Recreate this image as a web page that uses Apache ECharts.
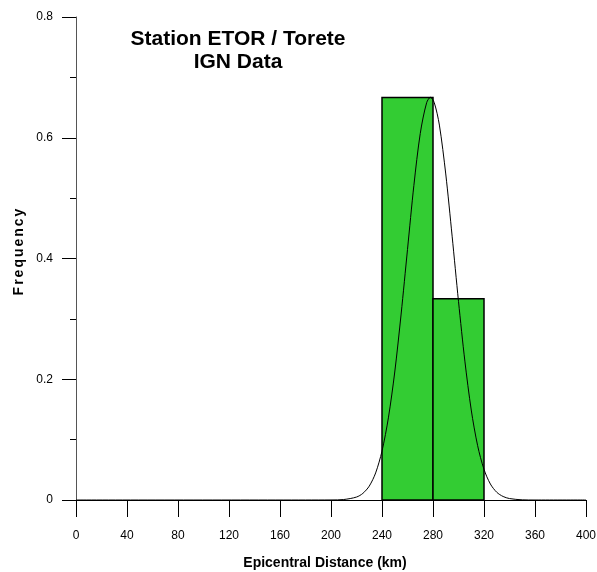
<!DOCTYPE html>
<html><head><meta charset="utf-8">
<script src="https://cdn.jsdelivr.net/npm/echarts@6/dist/echarts.min.js"></script>
<style>html,body{margin:0;padding:0;background:#fff}#c{width:597px;height:572px}</style>
</head><body><div id="c"></div>
<script>
// Histogram bins (km) and frequencies
const binStarts = [240, 280];
const binEnds = [280, 320];
const frequencies = [0.6667, 0.3333];
// Fitted normal curve
const curveX = [0, 180, 200, 210, 220, 225, 230, 235, 240, 245, 250, 255, 260, 265, 270, 275, 278, 281, 285, 290, 295, 300, 305, 310, 315, 320, 325, 330, 335, 340, 350, 360, 400];
const curveY = [0, 0, 0.0001, 0.0008, 0.0049, 0.011, 0.023, 0.0448, 0.081, 0.136, 0.212, 0.308, 0.415, 0.521, 0.607, 0.658, 0.667, 0.658, 0.621, 0.540, 0.437, 0.329, 0.230, 0.149, 0.090, 0.0507, 0.0265, 0.0128, 0.0058, 0.0024, 0.0003, 0, 0];
const xTicks = [0, 40, 80, 120, 160, 200, 240, 280, 320, 360, 400];
const yTicks = [0, 0.2, 0.4, 0.6, 0.8];
const titleLines = ['Station ETOR / Torete', 'IGN Data'];
const xName = 'Epicentral Distance (km)';
const yName = 'Frequency';

// widen letter spacing of the y-axis name only, like the reference
(function () {
  const P = CanvasRenderingContext2D.prototype;
  const orig = P.fillText;
  P.fillText = function (t) {
    if (t === yName && 'letterSpacing' in this) {
      this.save();
      this.letterSpacing = '2px';
      const r = orig.apply(this, arguments);
      this.restore();
      return r;
    }
    return orig.apply(this, arguments);
  };
})();

const chart = echarts.init(document.getElementById('c'), null, {renderer: 'canvas'});
const font = 'Liberation Sans, Arial, sans-serif';
chart.setOption({
  animation: false,
  title: {
    text: titleLines.join('\n'),
    left: 233, top: 23, textAlign: 'center',
    textStyle: {fontFamily: font, fontSize: 21, fontWeight: 'bold', color: '#000', lineHeight: 23}
  },
  graphic: [
    {type: 'text', x: 325, y: 563,
      style: {text: xName, font: 'bold 14px ' + font, fill: '#000', align: 'center', verticalAlign: 'middle'}},
    {type: 'text', x: 19, y: 251, rotation: Math.PI / 2,
      style: {text: yName, font: 'bold 14px ' + font, fill: '#000', align: 'center', verticalAlign: 'middle'}}
  ],
  grid: {left: 76, right: 11, top: 17, bottom: 72, containLabel: false, outerBoundsMode: 'none'},
  xAxis: {
    type: 'value', min: xTicks[0], max: xTicks[xTicks.length - 1], interval: 40,
    axisLine: {show: true, onZero: false, lineStyle: {color: '#000', width: 1}},
    axisTick: {show: true, inside: false, length: 17, lineStyle: {color: '#000'}},
    axisLabel: {margin: 30, fontFamily: font, fontSize: 12, color: '#000'},
    splitLine: {show: false}
  },
  yAxis: {
    type: 'value', min: yTicks[0], max: yTicks[yTicks.length - 1], interval: 0.2,
    axisLine: {show: true, lineStyle: {color: '#555', width: 1}},
    axisTick: {show: true, length: 14, lineStyle: {color: '#000'}},
    minorTick: {show: true, splitNumber: 2, length: 6, lineStyle: {color: '#000'}},
    axisLabel: {margin: 23, fontFamily: font, fontSize: 12, color: '#000',
      formatter: v => (v === 0 ? '0' : String(Math.round(v * 10) / 10))},
    splitLine: {show: false}
  },
  series: [
    {
      type: 'custom',
      data: binStarts.map((s, i) => [s, binEnds[i], frequencies[i]]),
      renderItem: (params, api) => {
        const p0 = api.coord([api.value(0), 0]);
        const p1 = api.coord([api.value(1), api.value(2)]);
        return {
          type: 'rect',
          shape: {x: p0[0], y: p1[1], width: p1[0] - p0[0], height: p0[1] - p1[1]},
          style: {fill: '#33CC33', stroke: '#000', lineWidth: 1.5}
        };
      },
      z: 2
    },
    {
      type: 'line',
      data: curveX.map((x, i) => [x, curveY[i]]),
      showSymbol: false, smooth: 0.3,
      lineStyle: {color: '#000', width: 1},
      z: 3
    }
  ]
});
</script></body></html>
